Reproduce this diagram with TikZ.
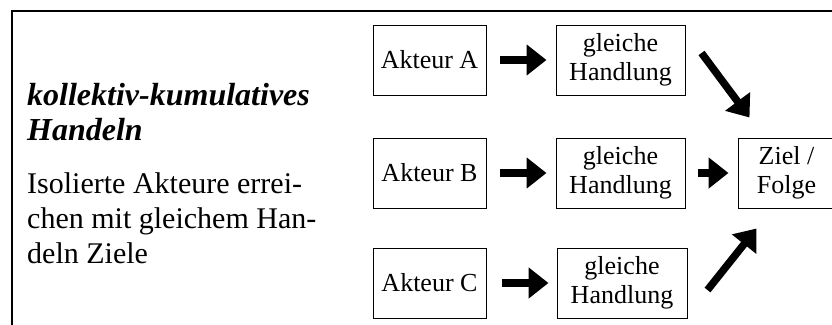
\documentclass[tikz,border=0pt]{standalone}
\usepackage{fontspec}
\setmainfont{Liberation Serif}
\usetikzlibrary{arrows.meta}

\begin{document}
\begin{tikzpicture}[x=1pt,y=-1pt]
	\tikzstyle{every node}+=[inner sep=0pt]
	\tikzstyle{kasten}=[draw=black, line width=1pt, minimum height=70pt, align=center, font=\fontsize{26}{29}\selectfont]
	\tikzstyle{pfeil}=[black, line width=7.5pt, -{Triangle[length=20pt,width=30pt]}]
	\clip (0,0) rectangle (832,324);
	\draw [black, line width=1.3pt] (12,340) -- (12,11) -- (850,11);
	\node [anchor=base west, align=left, font=\fontsize{32}{35}\selectfont\bfseries\itshape] (titel) at (27,140) {kollektiv-kumulatives\\Handeln};
	\node [anchor=base west, align=left, font=\fontsize{30}{35}\selectfont] (text) at (27,263) {Isolierte Akteure errei-\\chen mit gleichem Han-\\deln Ziele};
	\node [kasten, minimum width=113pt] (aA) at (429.5,60) {Akteur A};
	\node [kasten, minimum width=129pt] (hA) at (620.5,60) {gleiche\\Handlung};
	\node [kasten, minimum width=113pt] (aB) at (429.5,173) {Akteur B};
	\node [kasten, minimum width=129pt] (hB) at (620.5,173) {gleiche\\Handlung};
	\node [kasten, minimum width=113pt] (aC) at (429.5,283) {Akteur C};
	\node [kasten, minimum width=130pt] (hC) at (622,283) {gleiche\\Handlung};
	\node [kasten, minimum width=97pt] (zf) at (786.5,173) {Ziel /\\Folge};
	\draw [pfeil, shorten <=13pt, shorten >=9pt] (aA) -- (hA);
	\draw [pfeil, shorten <=13pt, shorten >=9pt] (aB) -- (hB);
	\draw [pfeil, shorten <=15pt, shorten >=8pt] (aC) -- (hC);
	\draw [pfeil, shorten <=12pt, shorten >=9pt] (hB) -- (zf);
	\draw [pfeil] ([xshift=16pt,yshift=7pt]hA.east) -- ([xshift=12pt,yshift=20pt]zf.north west);
	\draw [pfeil] ([xshift=20pt,yshift=-7pt]hC.east) -- ([xshift=19pt,yshift=-20pt]zf.south west);
\end{tikzpicture}
\end{document}
